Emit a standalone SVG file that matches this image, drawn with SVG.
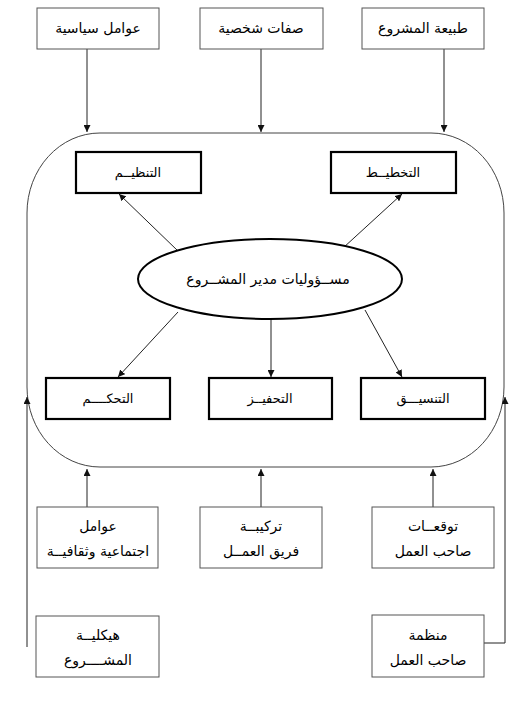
<svg xmlns="http://www.w3.org/2000/svg" width="524" height="704" viewBox="0 0 524 704">
<defs>
<marker id="ah" viewBox="0 0 10 10" refX="10" refY="5" markerWidth="7" markerHeight="7" markerUnits="userSpaceOnUse" orient="auto">
<path d="M0,0 L10,5 L0,10 Z" fill="#111"/>
</marker>
</defs>
<style>
.ob{fill:#fff;stroke:#555;stroke-width:1}
.ib{fill:#fff;stroke:#000;stroke-width:2.2}
.ln{fill:none;stroke:#444;stroke-width:1}
.ar{fill:none;stroke:#222;stroke-width:1;marker-end:url(#ah)}
.t{font-family:"DejaVu Sans","Liberation Sans",sans-serif;font-size:14px;fill:#000;text-anchor:middle}
.s{font-family:"DejaVu Sans","Liberation Sans",sans-serif;font-size:13px;fill:#000;text-anchor:middle}
</style>
<rect width="524" height="704" fill="#fff"/>
<g id="frame">
<path class="ln" d="M 100,133 H 431 A 73 80 0 0 1 504,213 V 387 A 73 80 0 0 1 431,467 H 100 A 73 80 0 0 1 27,387 V 213 A 73 80 0 0 1 100,133 Z"/>
</g>
<g id="connectors">
<line class="ar" x1="87" y1="49" x2="87" y2="132"/>
<line class="ar" x1="261" y1="49" x2="261" y2="132"/>
<line class="ar" x1="444" y1="49" x2="444" y2="132"/>
<line class="ar" x1="178" y1="251" x2="119" y2="194"/>
<line class="ar" x1="343" y1="248" x2="402" y2="194"/>
<line class="ar" x1="178" y1="312" x2="118" y2="377"/>
<line class="ar" x1="271" y1="319" x2="271" y2="377"/>
<line class="ar" x1="365" y1="310" x2="402" y2="377"/>
<line class="ar" x1="87" y1="507" x2="87" y2="469"/>
<line class="ar" x1="261" y1="507" x2="261" y2="469"/>
<line class="ar" x1="433" y1="507" x2="433" y2="469"/>
<line class="ar" x1="27" y1="647" x2="27" y2="397"/>
<polyline class="ar" points="484,643 505,643 505,397"/>
</g>
<g id="n-political"><rect class="ob" x="37" y="8" width="122" height="41"/><text class="t" x="98" y="33">عوامل سياسية</text></g>
<g id="n-personal"><rect class="ob" x="200" y="8" width="123" height="41"/><text class="t" x="261" y="33">صفات شخصية</text></g>
<g id="n-nature"><rect class="ob" x="362" y="8" width="122" height="41"/><text class="t" x="423" y="33">طبيعة المشروع</text></g>
<g id="n-organizing"><rect class="ib" x="76" y="152" width="125" height="41"/><text class="s" x="138" y="177">التنظيــم</text></g>
<g id="n-planning"><rect class="ib" x="331" y="152" width="125" height="41"/><text class="s" x="393" y="177">التخطيــط</text></g>
<g id="n-center"><ellipse cx="270" cy="279" rx="132" ry="40" fill="#fff" stroke="#000" stroke-width="2"/><text class="t" x="268" y="284">مســؤوليات مدير المشــروع</text></g>
<g id="n-control"><rect class="ib" x="46" y="378" width="124" height="41"/><text class="s" x="108" y="403">التحكــــم</text></g>
<g id="n-motivation"><rect class="ib" x="209" y="378" width="123" height="41"/><text class="s" x="270" y="403">التحفيــز</text></g>
<g id="n-coordination"><rect class="ib" x="361" y="378" width="124" height="41"/><text class="s" x="423" y="403">التنسيـــق</text></g>
<g id="n-social"><rect class="ob" x="37" y="507" width="121" height="61"/><text class="t" x="98" y="531">عوامل</text><text class="t" x="98" y="556">اجتماعية وثقافيــة</text></g>
<g id="n-team"><rect class="ob" x="200" y="507" width="122" height="61"/><text class="t" x="261" y="531">تركيبــة</text><text class="t" x="261" y="556">فريق العمــل</text></g>
<g id="n-expect"><rect class="ob" x="372" y="507" width="122" height="61"/><text class="t" x="433" y="531">توقعــات</text><text class="t" x="433" y="556">صاحب العمل</text></g>
<g id="n-structure"><rect class="ob" x="36" y="616" width="123" height="61"/><text class="t" x="98" y="640">هيكليــة</text><text class="t" x="98" y="665">المشــــروع</text></g>
<g id="n-org"><rect class="ob" x="372" y="615" width="112" height="62"/><text class="t" x="428" y="640">منظمة</text><text class="t" x="428" y="665">صاحب العمل</text></g>
</svg>
